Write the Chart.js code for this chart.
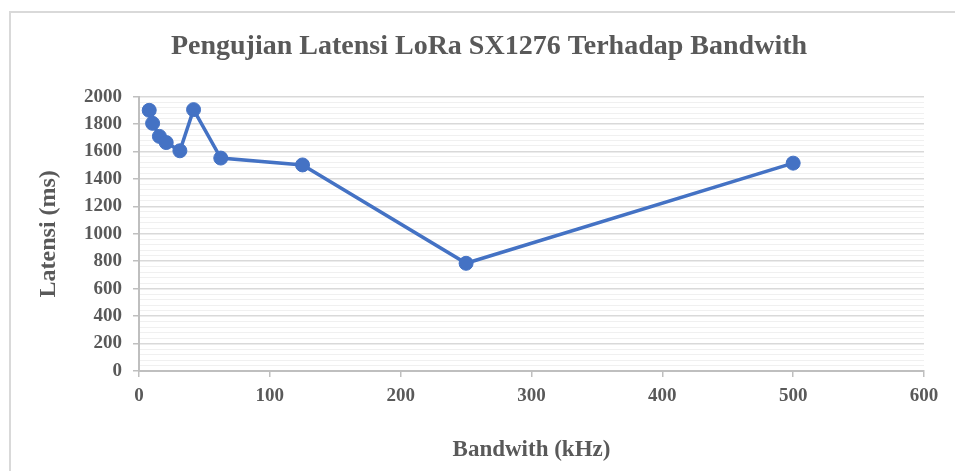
<!DOCTYPE html>
<html>
<head>
<meta charset="utf-8">
<script src="https://cdn.jsdelivr.net/npm/chart.js@4.4.1/dist/chart.umd.min.js"></script>
<style>
  html, body { margin: 0; padding: 0; background: #fff; overflow: hidden; }
  #frame {
    position: absolute; left: 9px; top: 11px;
    width: 960px; height: 480px;
    border-left: 2px solid #d9d9d9; border-top: 2px solid #d9d9d9;
  }
  #chart { display: block; }
</style>
</head>
<body>
<div id="frame"><canvas id="chart" width="944" height="458"></canvas></div>
<script>
// bandwidth in kHz and measured latency in ms
const bandwidths = [7.8, 10.4, 15.6, 20.8, 31.25, 41.7, 62.5, 125, 250, 500];
const latencies = [1900, 1805, 1710, 1665, 1605, 1905, 1552, 1502, 785, 1515];
const xTicks = [0, 100, 200, 300, 400, 500, 600];
const yTicks = [0, 200, 400, 600, 800, 1000, 1200, 1400, 1600, 1800, 2000];

const textColor = '#595959';
const fontFamily = '"Liberation Serif", "Times New Roman", serif';
const lineColor = '#4472C4';

const points = bandwidths.map((bw, i) => ({ x: bw, y: latencies[i] }));
const isMajor = v => yTicks.includes(v);

new Chart(document.getElementById('chart'), {
    type: 'line',
    data: {
        datasets: [{
            label: 'Latensi',
            data: points,
            borderColor: lineColor,
            backgroundColor: lineColor,
            borderWidth: 3.5,
            pointRadius: 7,
            pointBorderWidth: 1,
            pointBackgroundColor: lineColor,
            pointBorderColor: lineColor,
            tension: 0
        }]
    },
    options: {
        responsive: false,
        animation: false,
        // left padding keeps the title centred like the original
        layout: { padding: { left: 43, right: 31, top: 0, bottom: 0 } },
        plugins: {
            legend: { display: false },
            tooltip: { enabled: false },
            title: {
                display: true,
                text: 'Pengujian Latensi LoRa SX1276 Terhadap Bandwith',
                color: textColor,
                font: { family: fontFamily, size: 28, weight: 'bold', lineHeight: 1.2 },
                padding: { top: 17, bottom: 33 }
            }
        },
        scales: {
            x: {
                type: 'linear',
                min: xTicks[0],
                max: xTicks[xTicks.length - 1],
                afterBuildTicks: scale => { scale.ticks = xTicks.map(v => ({ value: v })); },
                afterFit: scale => { scale.height = 100; },
                ticks: {
                    color: textColor,
                    font: { family: fontFamily, size: 19, weight: 'bold' },
                    padding: 8,
                    maxRotation: 0
                },
                grid: {
                    drawOnChartArea: false,
                    color: '#bfbfbf',
                    tickLength: 6,
                    lineWidth: 1.5
                },
                border: { color: '#bfbfbf', width: 2 },
                title: {
                    display: true,
                    text: 'Bandwith (kHz)',
                    color: textColor,
                    font: { family: fontFamily, size: 23, weight: 'bold', lineHeight: 1.2 },
                    padding: { top: 0, bottom: 7 }
                }
            },
            y: {
                min: yTicks[0],
                max: yTicks[yTicks.length - 1],
                afterFit: scale => { scale.width = 85; },
                ticks: {
                    stepSize: 40,
                    autoSkip: false,
                    color: textColor,
                    font: { family: fontFamily, size: 19, weight: 'bold' },
                    padding: 11,
                    callback: v => isMajor(v) ? v : ''
                },
                grid: {
                    color: ctx => isMajor(ctx.tick.value) ? '#d9d9d9' : '#f0f0f0',
                    tickColor: ctx => isMajor(ctx.tick.value) ? '#bfbfbf' : 'rgba(0,0,0,0)',
                    lineWidth: ctx => isMajor(ctx.tick.value) ? 1.5 : 1,
                    tickLength: 6
                },
                border: { color: '#bfbfbf', width: 2 },
                title: {
                    display: true,
                    text: 'Latensi (ms)',
                    color: textColor,
                    font: { family: fontFamily, size: 24, weight: 'bold', lineHeight: 1.2 },
                    padding: { top: -20, bottom: 0 }
                }
            }
        }
    }
});
</script>
</body>
</html>
